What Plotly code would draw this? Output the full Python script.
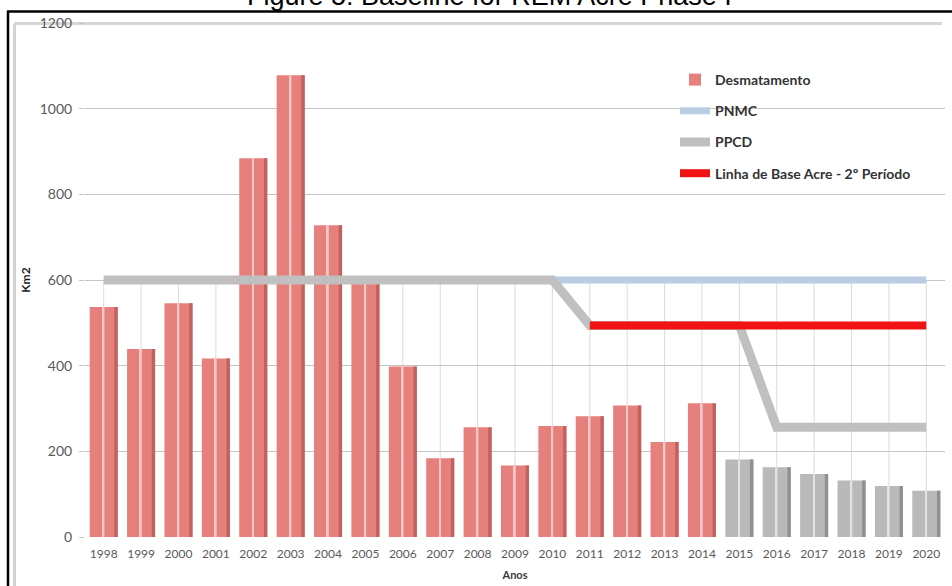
import plotly.graph_objects as go

# ---------------- data ----------------
years = [str(y) for y in range(1998, 2021)]
desmatamento = [537, 439, 546, 417, 884, 1078, 728, 592, 398, 184, 256, 167,
                259, 282, 307, 222, 312, 181, 163, 147, 132, 119, 108]
projection_start = 2015  # bars from this year on are drawn grey

pnmc_years = [str(y) for y in range(2010, 2021)]
pnmc = [600, 600, 600, 600, 600, 600, 600, 600, 600, 600, 600]

ppcd_years = years
ppcd = [600, 600, 600, 600, 600, 600, 600, 600, 600, 600, 600, 600, 600,
        494, 494, 494, 494, 494, 256, 256, 256, 256, 256]

base_years = [str(y) for y in range(2011, 2021)]
base_acre = [494, 494, 494, 494, 494, 494, 494, 494, 494, 494]

y_ticks = [0, 200, 400, 600, 800, 1000, 1200]

# ---------------- style ----------------
SALMON = "#E5807C"
SALMON_DARK = "#C2625E"
SALMON_HI = "#F6C9C6"
GREY = "#B9B9B9"
GREY_DARK = "#909090"
GREY_HI = "#E2E2E2"

W, H = 952, 586
L, R, T, B = 85, 7, 23, 49
PW, PH = W - L - R, H - T - B


def px(x):
    return (x - L) / PW


def py(y):
    return (H - B - y) / PH


is_proj = [int(y) >= projection_start for y in years]
main_col = [GREY if p else SALMON for p in is_proj]
dark_col = [GREY_DARK if p else SALMON_DARK for p in is_proj]
hi_col = [GREY_HI if p else SALMON_HI for p in is_proj]

fig = go.Figure()

fig.add_trace(go.Bar(
    x=years, y=desmatamento, name="Desmatamento", legendgroup="a",
    marker=dict(color=main_col, line=dict(width=0)), width=0.75,
    hoverinfo="x+y"))
fig.add_trace(go.Bar(
    x=years, y=desmatamento, showlegend=False, legendgroup="a",
    marker=dict(color=dark_col, line=dict(width=0)), width=0.09, offset=0.285,
    hoverinfo="skip"))
fig.add_trace(go.Bar(
    x=years, y=desmatamento, showlegend=False, legendgroup="a",
    marker=dict(color=hi_col, line=dict(width=0)), width=0.05, offset=-0.03,
    hoverinfo="skip"))

fig.add_trace(go.Scatter(
    x=pnmc_years, y=pnmc, name="PNMC", legendgroup="b", mode="lines",
    line=dict(color="#B9CDE5", width=7)))
fig.add_trace(go.Scatter(
    x=ppcd_years, y=ppcd, name="PPCD", legendgroup="c", mode="lines",
    line=dict(color="#C0C0C0", width=9)))
fig.add_trace(go.Scatter(
    x=base_years, y=base_acre, name="Linha de Base Acre - 2º Período",
    legendgroup="d", mode="lines",
    line=dict(color="#F01414", width=8)))

shapes = []
# vertical grid lines at each category (index on the category axis),
# only up to the PNMC level, as in the source
for i, _ in enumerate(years):
    shapes.append(dict(type="line", xref="x", yref="y", x0=i, x1=i,
                       y0=0, y1=pnmc[0], layer="below",
                       line=dict(color="#DCDCDC", width=1)))
# chart frame (light grey) and page frame (black)
shapes += [
    dict(type="line", xref="paper", yref="paper", x0=px(14.5), x1=px(14.5),
         y0=py(24), y1=py(590), layer="below",
         line=dict(color="#D2D2D2", width=3)),
    dict(type="line", xref="paper", yref="paper", x0=px(14), x1=px(942),
         y0=py(23.5), y1=py(23.5), layer="below",
         line=dict(color="#D6D6D6", width=3)),
    dict(type="line", xref="paper", yref="paper", x0=px(8), x1=px(8),
         y0=py(11), y1=py(590), line=dict(color="#000000", width=2.5)),
    dict(type="line", xref="paper", yref="paper", x0=px(7), x1=px(955),
         y0=py(11.5), y1=py(11.5), line=dict(color="#000000", width=2.5)),
]

fig.update_layout(
    width=W, height=H, autosize=False,
    margin=dict(l=L, r=R, t=T, b=B),
    paper_bgcolor="white", plot_bgcolor="rgba(0,0,0,0)",
    barmode="overlay",
    font=dict(family="Lato, 'Open Sans', sans-serif", color="#595959"),
    shapes=shapes,
    legend=dict(x=px(675), y=py(64), xanchor="left", yanchor="top",
                bgcolor="rgba(0,0,0,0)", traceorder="grouped",
                tracegroupgap=10,
                font=dict(family="Lato, 'Open Sans', sans-serif", size=14,
                          color="#333333", weight="bold")),
    annotations=[dict(
        text="Figure 5: Baseline for REM Acre Phase I",
        xref="paper", yref="paper", x=px(489), y=py(-4.4),
        xanchor="center", yanchor="middle", showarrow=False,
        font=dict(family="Liberation Sans, Arial, sans-serif", size=27,
                  color="#000000"))],
    showlegend=True,
)

fig.update_xaxes(
    type="category", categoryorder="array", categoryarray=years,
    range=[-0.5, len(years) - 0.5], automargin=False,
    showgrid=False, showline=False, zeroline=False,
    tickfont=dict(size=12, color="#595959"), ticklabelstandoff=8,
    title=dict(text="Anos", standoff=11,
               font=dict(size=11, color="#3A3A3A", weight="bold")),
)
fig.update_yaxes(
    range=[0, 1200], tickvals=y_ticks, showgrid=True, gridcolor="#C4C4C4",
    gridwidth=1, zeroline=False, showline=False, automargin=False,
    ticks="outside", ticklen=5, tickcolor="#C4C4C4",
    tickfont=dict(size=14, color="#595959"), ticklabelstandoff=4,
    title=dict(text="Km2", standoff=6,
               font=dict(size=12, color="#1A1A1A", weight="bold")),
)

fig.write_html("out.html")
